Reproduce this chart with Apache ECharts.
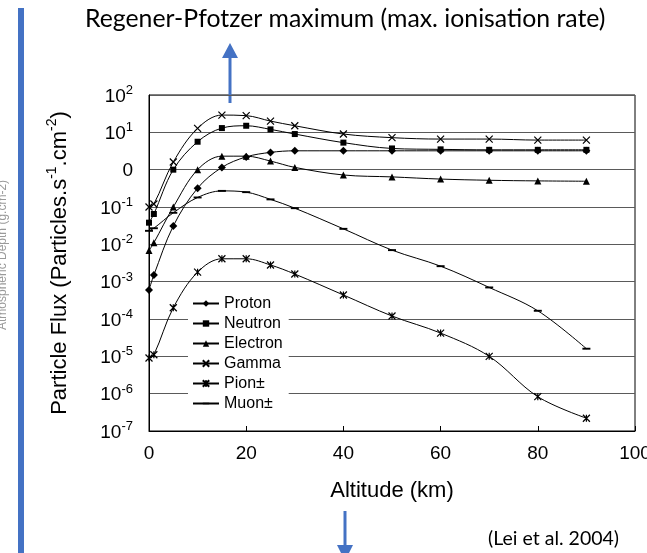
<!DOCTYPE html>
<html>
<head>
<meta charset="utf-8">
<script src="https://cdn.jsdelivr.net/npm/echarts@6/dist/echarts.min.js"></script>
<style>
  html, body { margin: 0; padding: 0; background: #fff; }
  #chart { width: 647px; height: 553px; }
</style>
</head>
<body>
<div id="chart"></div>
<script>
var altitude = [0, 1, 5, 10, 15, 20, 25, 30, 40, 50, 60, 70, 80, 90]
var proton = [6e-4, 1.5e-3, 0.031, 0.32, 1.15, 2.2, 2.9, 3.2, 3.2, 3.2, 3.2, 3.2, 3.2, 3.2]
var neutron = [0.038, 0.065, 1.0, 5.6, 13, 15, 12, 9, 5.3, 3.7, 3.5, 3.4, 3.4, 3.4]
var electron = [0.0068, 0.011, 0.1, 1.0, 2.3, 2.3, 1.7, 1.15, 0.72, 0.64, 0.56, 0.52, 0.5, 0.49]
var gamma = [0.1, 0.12, 1.6, 12.8, 29, 28, 20, 15, 9, 7.2, 6.6, 6.6, 6.2, 6.2]
var pion = [9e-6, 1.1e-5, 2e-4, 1.8e-3, 4.1e-3, 4.1e-3, 2.8e-3, 1.6e-3, 4.4e-4, 1.2e-4, 4.2e-5, 1e-5, 8.3e-7, 2.2e-7]
var muon = [0.023, 0.027, 0.07, 0.18, 0.27, 0.25, 0.16, 0.093, 0.026, 0.007, 0.0026, 7e-4, 1.66e-4, 1.6e-5]
var xTicks = [0, 20, 40, 60, 80, 100]

var FONT = '"Liberation Sans", Arial, sans-serif'
var BLUE = '#4472C4'

function pairs (vals) {
  return altitude.map(function (a, i) { return [a, vals[i]] })
}

function makeSeries (name, vals, symbol, size, stroke) {
  return {
    name: name,
    type: 'line',
    data: pairs(vals),
    smooth: 0.35,
    symbol: symbol,
    symbolSize: size,
    showSymbol: true,
    lineStyle: { color: '#000', width: 1 },
    itemStyle: {
      color: '#000',
      borderColor: '#000',
      borderWidth: stroke ? 1.2 : 0
    },
    emphasis: { disabled: true },
    z: 3
  }
}

var chart = echarts.init(document.getElementById('chart'))
chart.setOption({
  animation: false,
  backgroundColor: '#fff',
  textStyle: { fontFamily: FONT },
  grid: {
    left: 149,
    right: 12,
    top: 95,
    bottom: 122,
    containLabel: false,
    outerBoundsMode: 'none',
    show: true,
    borderColor: '#000',
    borderWidth: 1,
    backgroundColor: 'transparent'
  },
  legend: {
    orient: 'vertical',
    left: 188,
    top: 293,
    itemWidth: 26,
    itemHeight: 8,
    itemGap: 3,
    padding: [2, 6, 2, 4],
    backgroundColor: '#fff',
    textStyle: { fontFamily: FONT, fontSize: 16, color: '#000', lineHeight: 17 },
    data: ['Proton', 'Neutron', 'Electron', 'Gamma', 'Pion\u00b1', 'Muon\u00b1']
  },
  xAxis: {
    type: 'value',
    min: 0,
    max: 100,
    interval: 20,
    name: 'Altitude (km)',
    nameLocation: 'middle',
    nameGap: 49,
    nameTextStyle: { fontFamily: FONT, fontSize: 22, color: '#000' },
    axisLine: { lineStyle: { color: '#000', width: 1 } },
    axisTick: { show: true, inside: true, length: 5, lineStyle: { color: '#000' } },
    axisLabel: {
      fontFamily: FONT,
      fontSize: 19,
      color: '#000',
      margin: 13,
      customValues: xTicks
    },
    splitLine: { show: false }
  },
  yAxis: {
    type: 'log',
    logBase: 10,
    min: 1e-7,
    max: 100,
    splitNumber: 9,
    name: '{a|Particle Flux (Particles.s}{s|-1}{a|.cm}{s|-2}{a|)}',
    nameLocation: 'middle',
    nameGap: 78,
    nameRotate: 90,
    nameTextStyle: {
      rich: {
        a: { fontFamily: FONT, fontSize: 22, color: '#000', lineHeight: 26, verticalAlign: 'bottom' },
        s: { fontFamily: FONT, fontSize: 14, color: '#000', lineHeight: 26, verticalAlign: 'top' }
      }
    },
    axisLine: { show: true, lineStyle: { color: '#000', width: 1 } },
    axisTick: { show: false },
    axisLabel: {
      margin: 16,
      formatter: function (v) {
        var e = Math.round(Math.log10(v))
        if (e === 0) return '{b|0}'
        return '{b|10}{s|' + e + '}'
      },
      rich: {
        b: { fontFamily: FONT, fontSize: 19, color: '#000', lineHeight: 22, verticalAlign: 'bottom' },
        s: { fontFamily: FONT, fontSize: 13, color: '#000', lineHeight: 22, verticalAlign: 'top' }
      }
    },
    splitLine: { show: true, lineStyle: { color: '#5a5a5a', width: 1.2 } }
  },
  series: [
    makeSeries('Proton', proton, 'diamond', 8, false),
    makeSeries('Neutron', neutron, 'rect', 6, false),
    makeSeries('Electron', electron, 'triangle', 7, false),
    makeSeries('Gamma', gamma, 'path://M0,0L10,10M10,0L0,10', 7, true),
    makeSeries('Pion\u00b1', pion, 'path://M0,0L10,10M10,0L0,10M5,0L5,10', 7, true),
    // square box with a flat dash in the middle, so the legend keeps it flat too
    makeSeries('Muon\u00b1', muon, 'path://M0,0M10,10M0,3.8L10,3.8L10,6.2L0,6.2Z', 8, false)
  ],
  graphic: [
    {
      type: 'text',
      left: 85,
      top: 7,
      style: {
        text: 'Regener-Pfotzer maximum (max. ionisation rate)',
        font: '24.8px Lato, "Open Sans", sans-serif',
        fill: '#000'
      }
    },
    // arrow up to the maximum
    {
      type: 'line',
      shape: { x1: 230, y1: 103, x2: 230, y2: 57 },
      style: { stroke: BLUE, lineWidth: 3 }
    },
    {
      type: 'polygon',
      shape: { points: [[222, 58], [238, 58], [230, 43]] },
      style: { fill: BLUE }
    },
    // arrow down below the axis
    {
      type: 'line',
      shape: { x1: 345, y1: 511, x2: 345, y2: 546 },
      style: { stroke: BLUE, lineWidth: 3 }
    },
    {
      type: 'polygon',
      shape: { points: [[337, 545], [353, 545], [345, 561]] },
      style: { fill: BLUE }
    },
    {
      type: 'rect',
      shape: { x: 18, y: 8, width: 6, height: 560 },
      style: { fill: BLUE }
    },
    {
      type: 'text',
      x: 488,
      y: 529,
      style: {
        text: '(Lei et al. 2004)',
        font: '19.5px Lato, "Open Sans", sans-serif',
        fill: '#000'
      }
    },
    {
      type: 'text',
      x: -3,
      y: 330,
      rotation: Math.PI / 2,
      style: {
        text: 'Atmospheric Depth (g.cm-2)',
        font: '12px "Liberation Sans", sans-serif',
        fill: '#9a9a9a'
      }
    }
  ]
})
</script>
</body>
</html>
